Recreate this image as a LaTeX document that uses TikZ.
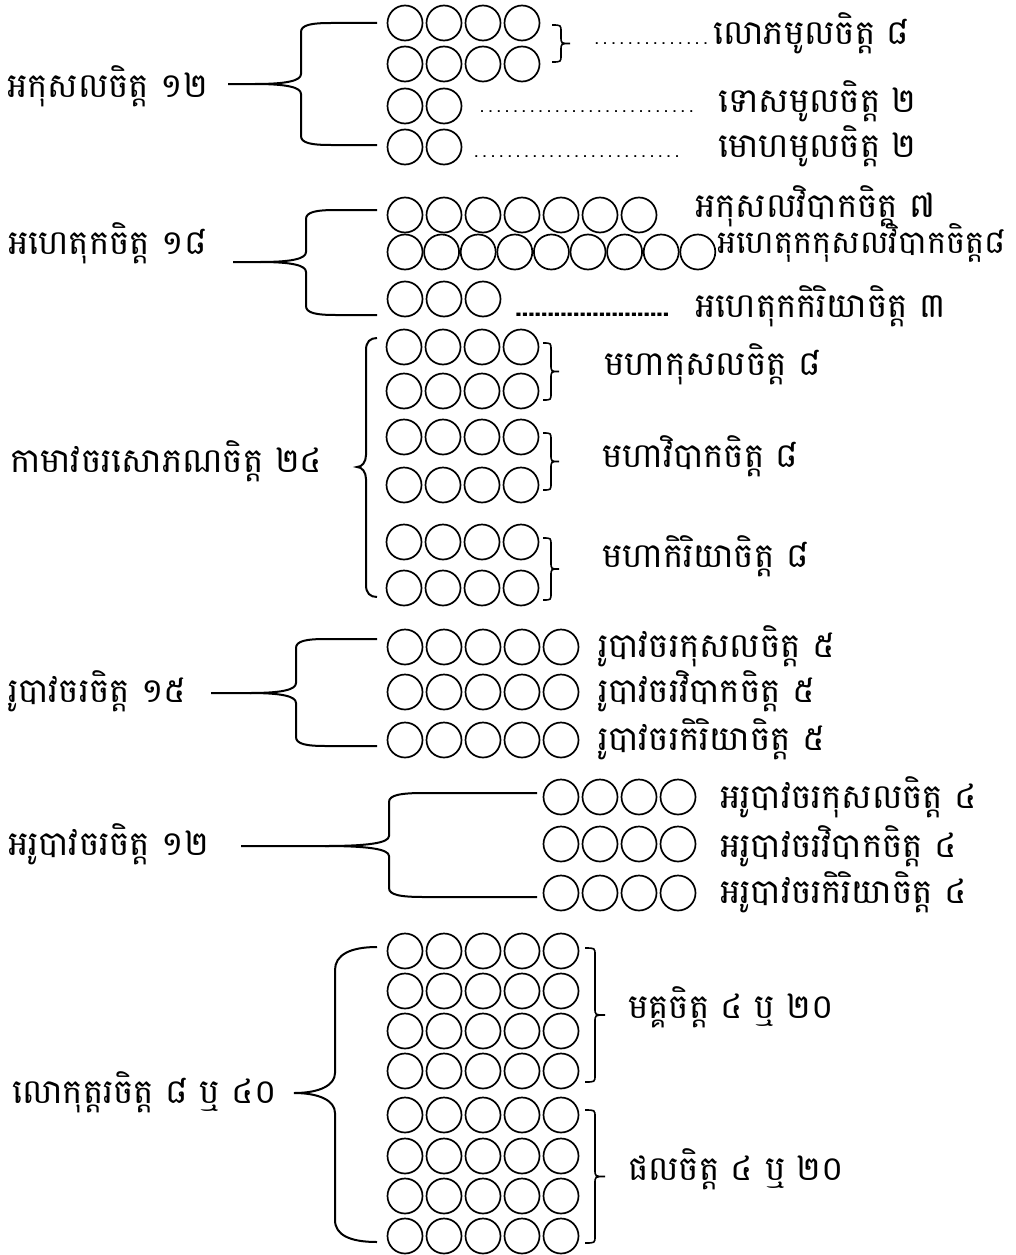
\documentclass[tikz,border=0pt]{standalone}
\usepackage{fontspec}
\setmainfont{Battambang}[Script=Khmer]
\usetikzlibrary{positioning}

\tikzset{
    ring/.style={draw, line width=1.7pt},
    bar/.style={draw, line width=2pt},
    lbl/.style={anchor=base west, inner sep=0pt, font=\fontsize{34}{40}\selectfont},
    lead/.style={anchor=base west, inner sep=0pt, font=\fontsize{19}{22}\selectfont},
}

% side brace: start x, mid y, stem x, top y, bottom y, end x, tip width, corner width
\newcommand{\sidebrace}[8]{%
    \draw[bar] (#1,#2) -- ({#3-#7},#2)
        .. controls ({#3-#7/3},#2) and (#3,{#2-3}) .. (#3,{#2-10})
        -- (#3,{#4+9}) .. controls (#3,{#4+2}) and ({#3+#8/3},#4) .. ({#3+#8},#4) -- (#6,#4);
    \draw[bar] ({#3-#7},#2)
        .. controls ({#3-#7/3},#2) and (#3,{#2+3}) .. (#3,{#2+10})
        -- (#3,{#5-9}) .. controls (#3,{#5-2}) and ({#3+#8/3},#5) .. ({#3+#8},#5) -- (#6,#5);
}
% small right brace: x, top y, bottom y, width
\newcommand{\rightbrace}[4]{%
    \draw[line width=1.6pt] (#1,#2) .. controls ({#1+#4/2},#2) .. ({#1+#4/2},{#2+7})
        -- ({#1+#4/2},{(#2+#3)/2-7}) .. controls ({#1+#4/2},{(#2+#3)/2}) .. ({#1+#4},{(#2+#3)/2})
        .. controls ({#1+#4/2},{(#2+#3)/2}) .. ({#1+#4/2},{(#2+#3)/2+7})
        -- ({#1+#4/2},{#3-7}) .. controls ({#1+#4/2},#3) .. (#1,#3);
}

\begin{document}
\begin{tikzpicture}[x=1pt,y=-1pt]
    \useasboundingbox (0,0) rectangle (1015,1255);

    % akusala
    \node[lbl] (akusala) at (7,97) {អកុសលចិត្ត ១២};
    \sidebrace{228}{84}{301}{23}{145}{377}{46}{30}
    \foreach \y in {23,64} \foreach \i in {0,...,3} \draw[ring] ({405+39*\i},\y) circle (17.5);
    \foreach \y in {106,147} \foreach \i in {0,1} \draw[ring] ({405+39*\i},\y) circle (17.5);
    \rightbrace{552}{25}{62}{18}
    \node[lead] (dot1) at (591,45) {\makebox[120pt]{\dotfill}};
    \node[lbl] (lobha) at (713,45) {លោភមូលចិត្ត ៨};
    \node[lead] (dot2) at (475,112) {\makebox[223pt]{\dotfill}};
    \node[lbl] (dosa) at (718,112) {ទោសមូលចិត្ត ២};
    \node[lead] (dot3) at (468,157) {\makebox[217pt]{\dotfill}};
    \node[lbl] (moha) at (718,157) {មោហមូលចិត្ត ២};

    % ahetuka
    \node[lbl] (ahetuka) at (8,254) {អហេតុកចិត្ត ១៨};
    \sidebrace{233}{262}{306}{210}{315}{377}{46}{30}
    \foreach \i in {0,...,6} \draw[ring] ({405+39*\i},215) circle (17.5);
    \foreach \i in {0,...,8} \draw[ring] ({405+36.6*\i},252) circle (17.5);
    \foreach \i in {0,...,2} \draw[ring] ({405+39*\i},299) circle (17.5);
    \node[lbl] (akvipaka) at (695,217) {អកុសលវិបាកចិត្ត ៧};
    \node[lbl, font=\fontsize{32}{38}\selectfont] (kuvipaka) at (717,253) {អហេតុកកុសលវិបាកចិត្ត៨};
    \node[lead, font=\fontsize{24}{26}\selectfont\bfseries] (dot4) at (515,316) {\makebox[157pt]{\leaders\hbox to 6.4pt{\hss.\hss}\hfill}};
    \node[lbl] (ahkiriya) at (695,317) {អហេតុកកិរិយាចិត្ត ៣};

    % kamavacara sobhana
    \node[lbl] (sobhana) at (10,472) {កាមាវចរសោភណចិត្ត ២៤};
    \draw[bar] (377,338) .. controls (370,338) and (366,342) .. (366,350) -- (366,455)
        .. controls (366,462) and (362,467) .. (357,467)
        .. controls (362,467) and (366,472) .. (366,479) -- (366,585)
        .. controls (366,593) and (370,597) .. (377,597);
    \foreach \y in {347,391,437,485,542,588} \foreach \i in {0,...,3} \draw[ring] ({404+39*\i},\y) circle (17.5);
    \rightbrace{543}{343}{400}{16}
    \rightbrace{543}{433}{490}{16}
    \rightbrace{543}{538}{600}{16}
    \node[lbl] (mkusala) at (604,375) {មហាកុសលចិត្ត ៨};
    \node[lbl] (mvipaka) at (602,467) {មហាវិបាកចិត្ត ៨};
    \node[lbl] (mkiriya) at (602,567) {មហាកិរិយាចិត្ត ៨};

    % rupavacara
    \node[lbl] (rupa) at (8,702) {រូបាវចរចិត្ត ១៥};
    \sidebrace{211}{693}{296}{639}{746}{377}{46}{30}
    \foreach \y in {647,692,740} \foreach \i in {0,...,4} \draw[ring] ({405+39*\i},\y) circle (17.5);
    \node[lbl] (rkusala) at (598,657) {រូបាវចរកុសលចិត្ត ៥};
    \node[lbl] (rvipaka) at (598,702) {រូបាវចរវិបាកចិត្ត ៥};
    \node[lbl] (rkiriya) at (598,750) {រូបាវចរកិរិយាចិត្ត ៥};

    % arupavacara
    \node[lbl] (arupa) at (8,855) {អរូបាវចរចិត្ត ១២};
    \sidebrace{241}{846}{389}{793}{897}{537}{64}{35}
    \foreach \y in {797,844,893} \foreach \i in {0,...,3} \draw[ring] ({561+39*\i},\y) circle (17.5);
    \node[lbl] (akusala4) at (720,808) {អរូបាវចរកុសលចិត្ត ៤};
    \node[lbl] (avipaka) at (720,857) {អរូបាវចរវិបាកចិត្ត ៤};
    \node[lbl] (akiriya) at (720,903) {អរូបាវចរកិរិយាចិត្ត ៤};

    % lokuttara
    \node[lbl] (lokuttara) at (12,1103) {លោកុត្តរចិត្ត ៨ ឬ ៤០};
    \draw[bar] (377,947) .. controls (350,947) and (335,955) .. (335,970) -- (335,1073)
        .. controls (335,1085) and (320,1093) .. (294,1093)
        .. controls (320,1093) and (335,1101) .. (335,1113) -- (335,1220)
        .. controls (335,1235) and (350,1242) .. (377,1242);
    \foreach \y in {951,991,1031,1071,1115,1156,1196,1236} \foreach \i in {0,...,4} \draw[ring] ({405+39*\i},\y) circle (17.5);
    \rightbrace{585}{948}{1082}{20}
    \rightbrace{585}{1110}{1243}{20}
    \node[lbl] (magga) at (628,1018) {មគ្គចិត្ត ៤ ឬ ២០};
    \node[lbl] (phala) at (628,1180) {ផលចិត្ត ៤ ឬ ២០};
\end{tikzpicture}
\end{document}
